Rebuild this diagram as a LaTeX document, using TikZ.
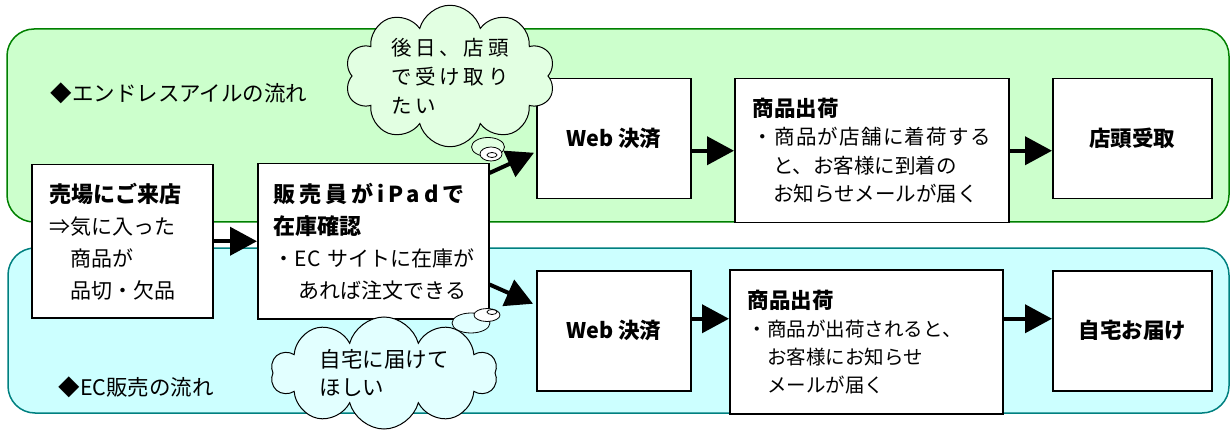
\documentclass[tikz,border=0pt]{standalone}
\usepackage{fontspec}
\setmainfont{Noto Sans CJK JP}
\newfontfamily\spacedfont{Noto Sans CJK JP}[LetterSpace=18]
\newfontfamily\widefont{Noto Sans CJK JP}[LetterSpace=6]
\usetikzlibrary{arrows.meta,calc,shapes.geometric,shapes.symbols}
\definecolor{panelgreen}{HTML}{CCFFCC}
\definecolor{edgegreen}{HTML}{008000}
\definecolor{panelcyan}{HTML}{CCFFFF}
\definecolor{edgeteal}{HTML}{008080}
\definecolor{cloudgreen}{HTML}{E2FFE2}
\definecolor{cloudcyan}{HTML}{E2FFFF}

\begin{document}
\begin{tikzpicture}[x=1pt, y=-1pt,
	box/.style={draw=black, line width=1.5pt, fill=white, anchor=north west, inner xsep=18pt, inner ysep=0pt},
	textbox/.style={box, align=left, font=\fontsize{21}{32}\selectfont},
	endbox/.style={box, align=center, font=\bfseries\fontsize{21.5}{26}\selectfont},
	flow/.style={line width=4pt, -{Triangle[length=27pt, width=28pt]}},
	wish/.style={cloud, cloud puffs=10, cloud ignores aspect, draw=black, line width=1pt, align=left, inner sep=0pt},
	bubble/.style={ellipse, draw=black, line width=0.8pt, inner sep=0pt}]
	\useasboundingbox (0,0) rectangle (1230,430);
	%panels
	\draw[fill=panelgreen, draw=edgegreen, line width=1.5pt, rounded corners=27pt] (7,29) rectangle (1229,222);
	\draw[fill=panelcyan, draw=edgeteal, line width=1.5pt, rounded corners=27pt] (8,248) rectangle (1229,413);
	\node[anchor=west, font=\fontsize{21.5}{24}\selectfont] (titleA) at (47,93) {◆エンドレスアイルの流れ};
	\node[anchor=west, font=\fontsize{21.5}{24}\selectfont] (titleB) at (55,387) {◆EC販売の流れ};
	%boxes
	\node[textbox, text width=145pt, minimum height=153pt] (visit) at (31,164)
	{{\bfseries\fontsize{22}{32}\selectfont 売場にご来店}\\
		⇒気に入った\\
		\hspace*{1em}商品が\\
		\hspace*{1em}品切・欠品\\[4pt]};
	\node[textbox, text width=199pt, minimum height=155pt, inner xsep=16pt] (stock) at (257,163)
	{{\spacedfont\bfseries\fontsize{22}{32}\selectfont 販売員がiPadで}\\
		{\bfseries\fontsize{22}{32}\selectfont 在庫確認}\\
		\mbox{・EC サイトに在庫が}\\
		\hspace*{1.2em}あれば注文できる\\[4pt]};
	\node[endbox, minimum width=154pt, minimum height=120pt] (payA) at (536,78) {Web 決済};
	\node[textbox, text width=238pt, minimum height=144pt, font=\fontsize{20.5}{28.5}\selectfont] (shipA) at (734,78)
	{{\bfseries\fontsize{21.5}{28.5}\selectfont 商品出荷}\\
		{\widefont ・商品が店舗に着荷する}\\
		\hspace*{1em}と、お客様に到着の\\
		\hspace*{1em}お知らせメールが届く\\[8pt]};
	\node[endbox, minimum width=159pt, minimum height=120pt] (pickup) at (1052,78) {店頭受取};
	\node[endbox, minimum width=154pt, minimum height=120pt] (payB) at (536,270) {Web 決済};
	\node[textbox, text width=237pt, minimum height=144pt, font=\fontsize{19.5}{28}\selectfont] (shipB) at (729,269)
	{{\bfseries\fontsize{21.5}{28}\selectfont 商品出荷}\\
		・商品が出荷されると、\\
		\hspace*{1em}お客様にお知らせ\\
		\hspace*{1em}メールが届く\\[8pt]};
	\node[endbox, minimum width=159pt, minimum height=120pt] (home) at (1052,270) {自宅お届け};
	%arrows
	\draw[flow] (visit) -- (stock);
	\draw[flow] ($(stock.north east)+(0,10)$) -- ($(payA.west)+(-2,14)$);
	\draw[flow] ($(stock.south east)+(0,-35)$) -- ($(payB.west)+(-3,-27)$);
	\draw[flow] (payA.east |- shipA.west) -- (shipA.west);
	\draw[flow] (shipA.east) -- (pickup.west |- shipA.east);
	\draw[flow] ($(payB.east)+(0,-12)$) -- ($(shipB.west |- payB.east)+(0,-12)$);
	\draw[flow] ($(shipB.east |- payB.east)+(0,-12)$) -- ($(home.west)+(0,-12)$);
	%clouds
	\node[wish, fill=cloudgreen, minimum width=210pt, minimum height=130pt,
	font=\spacedfont\fontsize{20.5}{29}\selectfont] (wishA) at (450,76)
	{後日、店頭\\で受け取り\\たい};
	\node[wish, fill=cloudcyan, minimum width=226pt, minimum height=112pt,
	font=\fontsize{21.5}{28}\selectfont] (wishB) at (384,373)
	{自宅に届けて\\ほしい};
	\node[bubble, fill=cloudgreen, minimum width=33pt, minimum height=19pt] (dotA1) at (488,147) {};
	\node[bubble, fill=white, minimum width=22pt, minimum height=14pt] (dotA2) at (491,154) {};
	\node[bubble, fill=white, minimum width=10pt, minimum height=5pt] (dotA3) at (492,155) {};
	\node[bubble, fill=cloudcyan, minimum width=38pt, minimum height=20pt] (dotB1) at (471,323) {};
	\node[bubble, fill=white, minimum width=26pt, minimum height=13pt] (dotB2) at (487,315) {};
	\node[bubble, fill=white, minimum width=10pt, minimum height=5pt] (dotB3) at (492,312) {};
\end{tikzpicture}
\end{document}
